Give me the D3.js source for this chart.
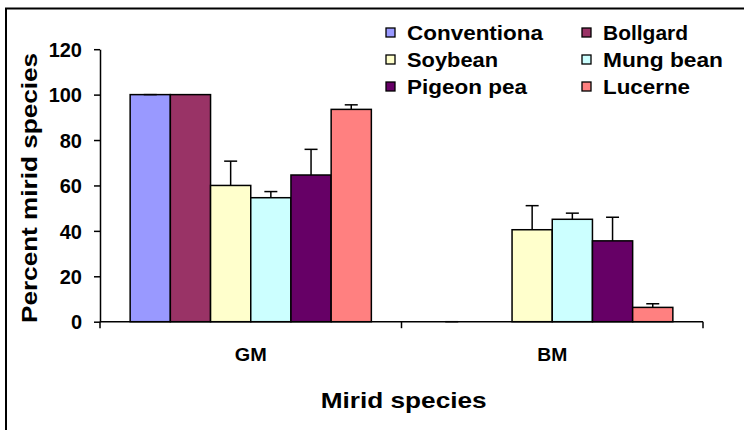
<!DOCTYPE html>
<html>
<head>
<meta charset="utf-8">
<script src="https://cdn.jsdelivr.net/npm/d3@7"></script>
<style>
  html, body { margin: 0; padding: 0; background: #fff; }
  svg { display: block; }
  text { font-family: "Liberation Sans", Arial, sans-serif; font-weight: bold; fill: #000; }
</style>
</head>
<body>
<svg id="chart" width="744" height="430"></svg>
<script>
// Mirid species groups on the x axis
const categories = ["GM", "BM"];
// Host crops (legend order)
const seriesNames = ["Conventiona", "Bollgard", "Soybean", "Mung bean", "Pigeon pea", "Lucerne"];
const seriesColors = ["#9999FF", "#993366", "#FFFFCC", "#CCFFFF", "#660066", "#FF8080"];
// Percent mirid species, one array per crop: [GM, BM]
const conventional = [100, 0];
const bollgard = [100, 0];
const soybean = [60, 40.5];
const mungBean = [54.6, 45.1];
const pigeonPea = [64.6, 35.6];
const lucerne = [93.5, 6.3];
// Standard errors (upper bars only); null = no bar drawn
const conventionalErr = [0, 0];
const bollgardErr = [null, null];
const soybeanErr = [10.7, 10.6];
const mungBeanErr = [2.7, 2.7];
const pigeonPeaErr = [11.3, 10.4];
const lucerneErr = [2, 1.6];
const yTicks = [0, 20, 40, 60, 80, 100, 120];

const values = [conventional, bollgard, soybean, mungBean, pigeonPea, lucerne];
const errors = [conventionalErr, bollgardErr, soybeanErr, mungBeanErr, pigeonPeaErr, lucerneErr];

const svg = d3.select("#chart");

// outer frame (runs off the right and bottom edges)
svg.append("rect")
  .attr("x", 6).attr("y", 8.5).attr("width", 800).attr("height", 500)
  .attr("fill", "none").attr("stroke", "#000").attr("stroke-width", 2);

const plot = { left: 100, right: 703, top: 49.2, bottom: 321.7 };

const x0 = d3.scaleBand().domain(categories).range([plot.left, plot.right]).padding(0);
const gap = x0.bandwidth() * 0.1;
const x1 = d3.scaleBand().domain(seriesNames).range([gap, x0.bandwidth() - gap]).padding(0);
const y = d3.scaleLinear().domain([0, 120]).range([plot.bottom, plot.top]);

// bars
const rows = [];
seriesNames.forEach((s, si) => {
  categories.forEach((c, ci) => {
    rows.push({ s, si, c, v: values[si][ci], e: errors[si][ci] });
  });
});

svg.append("g").selectAll("rect")
  .data(rows.filter(d => d.v > 0))
  .join("rect")
  .attr("x", d => x0(d.c) + x1(d.s))
  .attr("y", d => y(d.v))
  .attr("width", x1.bandwidth())
  .attr("height", d => y(0) - y(d.v))
  .attr("fill", d => seriesColors[d.si])
  .attr("stroke", "#000")
  .attr("stroke-width", 1.5);

// error bars (upper half)
const capW = 13;
const eg = svg.append("g").attr("stroke", "#000").attr("stroke-width", 1.5);
rows.filter(d => d.e !== null).forEach(d => {
  const cx = x0(d.c) + x1(d.s) + x1.bandwidth() / 2;
  eg.append("line").attr("x1", cx).attr("x2", cx).attr("y1", y(d.v)).attr("y2", y(d.v + d.e));
  eg.append("line").attr("x1", cx - capW / 2).attr("x2", cx + capW / 2)
    .attr("y1", y(d.v + d.e)).attr("y2", y(d.v + d.e));
});

// y axis
const yAxis = svg.append("g")
  .attr("transform", `translate(${plot.left},0)`)
  .call(d3.axisLeft(y).tickValues(yTicks).tickSize(6).tickPadding(12).tickSizeOuter(0));
yAxis.select(".domain").attr("stroke", "#000").attr("stroke-width", 1.5);
yAxis.selectAll(".tick line").attr("stroke", "#000").attr("stroke-width", 1.5);
yAxis.selectAll(".tick text")
  .style("font-family", '"Liberation Sans", Arial, sans-serif')
  .style("font-weight", "bold")
  .style("font-size", "20px")
  .attr("dy", "0.36em");

// x axis line with ticks at category boundaries
const xg = svg.append("g");
xg.append("line")
  .attr("x1", plot.left).attr("x2", plot.right)
  .attr("y1", y(0)).attr("y2", y(0))
  .attr("stroke", "#000").attr("stroke-width", 1.5);
const bounds = categories.map(c => x0(c)).concat([x0.range()[1]]);
xg.selectAll("line.tk").data(bounds).join("line")
  .attr("class", "tk")
  .attr("x1", d => d).attr("x2", d => d)
  .attr("y1", y(0)).attr("y2", y(0) + 6.5)
  .attr("stroke", "#000").attr("stroke-width", 1.5);

// category labels
const catWidths = { GM: 32, BM: 30 };
xg.selectAll("text.cat").data(categories).join("text")
  .attr("class", "cat")
  .attr("x", d => x0(d) + x0.bandwidth() / 2)
  .attr("y", 361)
  .attr("text-anchor", "middle")
  .attr("textLength", d => catWidths[d])
  .attr("lengthAdjust", "spacingAndGlyphs")
  .style("font-size", "18px")
  .text(d => d);

// axis titles
svg.append("text")
  .attr("x", 403.7).attr("y", 407.5)
  .attr("text-anchor", "middle")
  .attr("textLength", 166)
  .attr("lengthAdjust", "spacingAndGlyphs")
  .style("font-size", "22px")
  .text("Mirid species");

svg.append("text")
  .attr("transform", "translate(36.5,188) rotate(-90)")
  .attr("text-anchor", "middle")
  .attr("textLength", 270)
  .attr("lengthAdjust", "spacingAndGlyphs")
  .style("font-size", "22px")
  .text("Percent mirid species");

// legend: 3 rows x 2 columns
const legendCols = [386, 582];
const legendRow0 = 32.5, legendRowStep = 27;
const legendWidths = [136, 85, 91, 120, 120, 87];
const lg = svg.append("g");
seriesNames.forEach((s, i) => {
  const col = i % 2, row = Math.floor(i / 2);
  const lx = legendCols[col], ly = legendRow0 + row * legendRowStep;
  lg.append("rect")
    .attr("x", lx).attr("y", ly - 4.5).attr("width", 9).attr("height", 9)
    .attr("fill", seriesColors[i]).attr("stroke", "#000").attr("stroke-width", 1.3);
  lg.append("text")
    .attr("x", lx + 21).attr("y", ly + 7)
    .attr("textLength", legendWidths[i])
    .attr("lengthAdjust", "spacingAndGlyphs")
    .style("font-size", "20px")
    .text(s);
});
</script>
</body>
</html>
